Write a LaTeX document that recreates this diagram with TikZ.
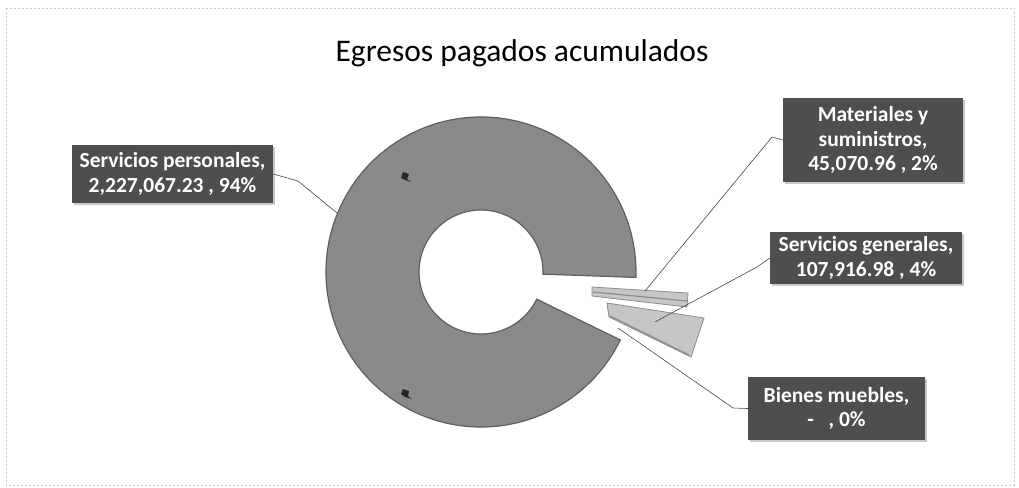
\documentclass[tikz,border=0pt]{standalone}
\usepackage{fontspec}
\setmainfont{Carlito}
\usetikzlibrary{shadows}
\definecolor{donutgray}{RGB}{138,138,138}
\definecolor{donutedge}{RGB}{95,95,95}
\definecolor{piecegray}{RGB}{198,198,198}
\definecolor{pieceedge}{RGB}{140,140,140}
\definecolor{boxgray}{RGB}{78,78,78}
\definecolor{shadowgray}{RGB}{200,200,200}
\definecolor{leadergray}{RGB}{70,70,70}
\definecolor{framegray}{RGB}{205,205,205}
\begin{document}
\begin{tikzpicture}[x=1pt,y=-1pt,
  lbl/.style={fill=boxgray,text=white,font=\fontsize{21.5}{24.5}\selectfont\bfseries,
    align=center,inner sep=0pt,minimum height=#1,
    drop shadow={fill=shadowgray,shadow xshift=2pt,shadow yshift=-2pt,opacity=1}},
  leader/.style={draw=leadergray,line width=0.6pt},
  donut/.style={fill=donutgray,draw=donutedge,line width=1.2pt},
  piece/.style={fill=piecegray,draw=pieceedge,line width=0.8pt}]
\useasboundingbox (0,0) rectangle (1019,487);
\draw[framegray,line width=0.5pt,dash pattern=on 2pt off 2pt] (6,8) rectangle (1014,485);
% title
\node[font=\fontsize{31.5}{36}\selectfont,anchor=base] (title) at (522,62) {Egresos pagados acumulados};
% main donut slice
\coordinate (C) at (481,272);
\fill[donut] ([shift={(481,272)}]26:155) arc[start angle=26,end angle=362,radius=155]
  -- ([shift={(481,272)}]362:62) arc[start angle=362,end angle=26,radius=62] -- cycle;
% small marks
\fill[black!85] (403,172) -- (409,174) -- (407,179) -- (411,182) -- (405,180) -- (401,178) -- cycle;
\fill[black!85] (403,389) -- (409,391) -- (408,396) -- (412,399) -- (405,397) -- (401,394) -- cycle;
% exploded pieces
\filldraw[piece] (592,287) -- (688,293) -- (687,307) -- (592,296) -- cycle;
\draw[pieceedge,line width=1.2pt] (593,292) -- (687,301);
\filldraw[piece] (607,303) -- (704,318) -- (691,357) -- (609,317) -- cycle;
\draw[pieceedge,line width=1.2pt] (610,316) -- (689,355);
% labels
\node[lbl=58pt,minimum width=201pt] (sp) at (172.5,174) {Servicios personales,\\2,227,067.23 , 94\%};
\node[lbl=84pt,minimum width=180pt] (ms) at (873,140) {Materiales y\\suministros,\\45,070.96 , 2\%};
\node[lbl=52pt,minimum width=192pt] (sg) at (866,258) {Servicios generales,\\107,916.98 , 4\%};
\node[lbl=63pt,minimum width=177pt] (bm) at (836.5,408.5) {Bienes muebles,\\- \ \ , 0\%};
% leader lines
\coordinate (spA) at (298,181);
\coordinate (spB) at (337,213);
\draw[leader] (sp.east) -- (spA) -- (spB);
\coordinate (msA) at (772,137);
\coordinate (msB) at (645,291);
\draw[leader] (ms.west) -- (msA) -- (msB);
\coordinate (sgA) at (757,267);
\coordinate (sgB) at (655,322);
\draw[leader] (sg.west) -- (sgA) -- (sgB);
\coordinate (bmA) at (733,408);
\coordinate (bmB) at (618,328);
\draw[leader] (bm.west) -- (bmA) -- (bmB);
\end{tikzpicture}
\end{document}
